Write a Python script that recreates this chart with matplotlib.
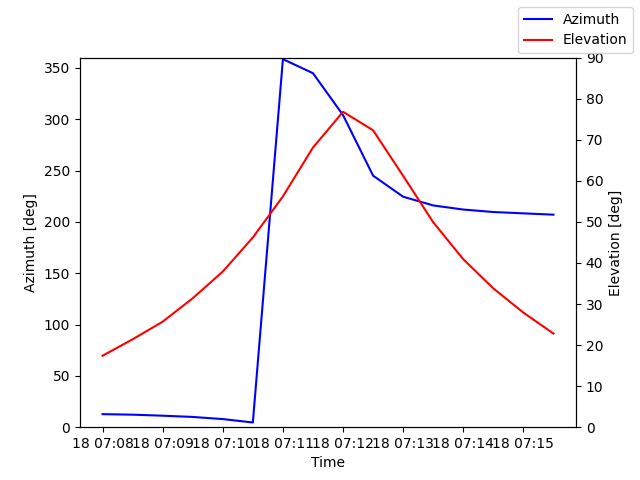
import matplotlib
matplotlib.use("Agg")
import matplotlib.pyplot as plt
import numpy as np
from datetime import datetime, timedelta

# pass samples every 30 s starting 07:08:00
start = datetime(2023, 5, 18, 7, 8, 0)
times = [start + timedelta(seconds=30 * i) for i in range(16)]

azimuth = [12.7, 12.2, 11.2, 10.0, 7.9, 4.6, 358.5, 344.8, 304.0, 245.0,
           224.5, 216.0, 212.0, 209.6, 208.3, 207.0]
elevation = [17.4, 21.4, 25.7, 31.4, 37.9, 46.2, 56.2, 68.1, 76.8, 72.3,
             61.2, 49.9, 40.9, 33.8, 27.9, 22.8]

fig, ax1 = plt.subplots(figsize=(6.4, 4.8), dpi=100)
ax1.plot(times, azimuth, color='blue', label='Azimuth')
ax1.set_ylim(0, 360)
ax1.set_xlabel('Time')
ax1.set_ylabel('Azimuth [deg]')

ax2 = ax1.twinx()
ax2.plot(times, elevation, color='red', label='Elevation')
ax2.set_ylim(0, 90)
ax2.set_ylabel('Elevation [deg]')

fig.legend(loc='upper right')
plt.savefig('out.png')
